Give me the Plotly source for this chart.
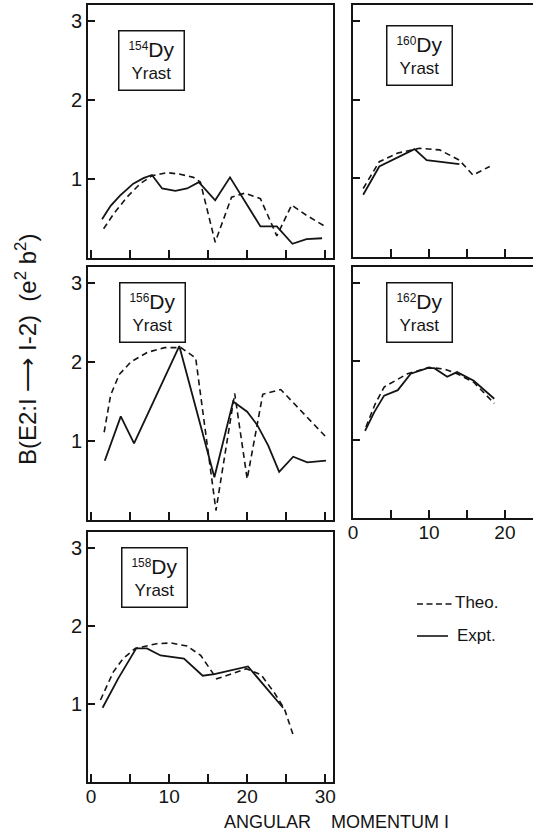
import plotly.graph_objects as go

# ---------------- data ----------------
# 154Dy
I154_theo = [1.6, 2.9, 4.6, 6.3, 7.8, 9.7, 11.4, 13.1, 14.0, 15.9, 18.0, 19.7, 21.7, 23.8, 25.7, 27.6, 29.8]
B154_theo = [0.37, 0.56, 0.77, 0.94, 1.04, 1.08, 1.06, 1.02, 0.96, 0.20, 0.77, 0.82, 0.75, 0.28, 0.67, 0.54, 0.41]
I154_expt = [1.4, 2.5, 3.7, 5.4, 6.7, 7.8, 9.1, 10.8, 12.3, 13.8, 15.9, 17.8, 21.7, 23.8, 25.8, 27.6, 29.6]
B154_expt = [0.49, 0.66, 0.79, 0.94, 1.01, 1.05, 0.88, 0.85, 0.88, 0.96, 0.73, 1.02, 0.40, 0.40, 0.18, 0.24, 0.25]

# 156Dy
I156_theo = [1.67, 2.5, 3.6, 5.1, 7.2, 9.4, 11.5, 13.4, 16.0, 18.4, 20.0, 22.0, 24.3, 30.1]
B156_theo = [1.11, 1.58, 1.84, 2.00, 2.12, 2.18, 2.18, 2.05, 0.12, 1.60, 0.52, 1.59, 1.65, 1.05]
I156_expt = [1.75, 3.8, 5.5, 11.3, 15.8, 18.2, 20.0, 21.3, 22.7, 24.1, 25.9, 27.7, 30.1]
B156_expt = [0.75, 1.31, 0.97, 2.20, 0.54, 1.50, 1.37, 1.20, 0.94, 0.61, 0.80, 0.73, 0.75]

# 158Dy
I158_theo = [1.2, 2.85, 4.1, 5.65, 8.4, 10.2, 12.3, 14.05, 16.1, 19.9, 21.8, 23.5, 24.8, 25.9]
B158_theo = [1.05, 1.41, 1.58, 1.71, 1.77, 1.78, 1.74, 1.62, 1.32, 1.45, 1.37, 1.14, 0.93, 0.60]
I158_expt = [1.47, 3.5, 5.78, 7.15, 8.9, 10.6, 11.9, 14.3, 15.8, 20.1, 24.6]
B158_expt = [0.95, 1.33, 1.71, 1.71, 1.62, 1.60, 1.58, 1.36, 1.38, 1.48, 0.95]

# 160Dy
I160_theo = [1.34, 3.46, 5.9, 8.75, 11.4, 14.0, 15.8, 18.0]
B160_theo = [0.87, 1.21, 1.32, 1.38, 1.36, 1.23, 1.04, 1.15]
I160_expt = [1.34, 3.46, 8.1, 9.7, 14.0]
B160_expt = [0.79, 1.15, 1.37, 1.23, 1.18]

# 162Dy
I162_theo = [1.7, 2.9, 4.1, 7.2, 10.0, 12.0, 13.7, 15.9, 18.6]
B162_theo = [1.16, 1.45, 1.67, 1.84, 1.92, 1.90, 1.84, 1.73, 1.46]
I162_expt = [1.59, 2.8, 4.1, 5.9, 7.6, 9.8, 10.7, 12.4, 13.7, 15.9, 18.6]
B162_expt = [1.11, 1.35, 1.56, 1.63, 1.84, 1.91, 1.91, 1.80, 1.86, 1.75, 1.52]

X_TICK_VALS = [0, 10, 20, 30]
X_TICK_TEXT = ["0", "10", "20", "30"]
X_MINOR_VALS = [5, 15, 25]
Y_TICK_VALS = [1, 2, 3]
Y_TICK_TEXT = ["1", "2", "3"]

PANELS = [
    # isotope, theo x, theo y, expt x, expt y, axis suffix
    ("154", I154_theo, B154_theo, I154_expt, B154_expt, ""),
    ("156", I156_theo, B156_theo, I156_expt, B156_expt, "2"),
    ("158", I158_theo, B158_theo, I158_expt, B158_expt, "3"),
    ("160", I160_theo, B160_theo, I160_expt, B160_expt, "4"),
    ("162", I162_theo, B162_theo, I162_expt, B162_expt, "5"),
]

W, H = 533, 834
INK = "#141414"
FONT = "Liberation Sans"
THEO_DASH = "6px,4px"


def px_x(p):
    return p / W


def px_y(p):
    return 1 - p / H


fig = go.Figure()
for iso, tx, ty, ex, ey, s in PANELS:
    fig.add_trace(go.Scatter(x=tx, y=ty, mode="lines", name="Theo.",
                             xaxis="x" + s, yaxis="y" + s, showlegend=False,
                             line=dict(color=INK, width=1.6, dash=THEO_DASH)))
    fig.add_trace(go.Scatter(x=ex, y=ey, mode="lines", name="Expt.",
                             xaxis="x" + s, yaxis="y" + s, showlegend=False,
                             line=dict(color=INK, width=1.8)))

left_dom = [px_x(88), px_x(333)]
right_dom = [px_x(353), 1.0]
ydoms = {
    "": [px_y(258), px_y(5)],
    "2": [px_y(520), px_y(267)],
    "3": [px_y(782), px_y(532)],
    "4": [px_y(257), px_y(5)],
    "5": [px_y(518), px_y(267)],
}
show_xlab = {"": False, "2": False, "3": True, "4": False, "5": True}

layout = dict(width=W, height=H, margin=dict(l=0, r=0, t=0, b=0),
              paper_bgcolor="white", plot_bgcolor="white",
              font=dict(family=FONT, color=INK))
for iso, tx, ty, ex, ey, s in PANELS:
    right = s in ("4", "5")
    xa = dict(domain=right_dom if right else left_dom,
              range=[0.0, 23.7] if right else [-0.4, 31.0],
              anchor="y" + s, tickmode="array", tickvals=X_TICK_VALS,
              ticktext=X_TICK_TEXT, ticks="inside", ticklen=8, tickwidth=1.5,
              tickcolor=INK,
              minor=dict(tickmode="array", tickvals=X_MINOR_VALS, ticks="inside",
                         ticklen=8, tickwidth=1.5, tickcolor=INK, showgrid=False),
              showline=True, linewidth=2, linecolor=INK,
              mirror=True, showgrid=False, zeroline=False, automargin=False,
              ticklabelstandoff=-4,
              showticklabels=show_xlab[s], tickfont=dict(size=19, family=FONT))
    ya = dict(domain=ydoms[s], range=[0, 3.2], anchor="x" + s,
              tickmode="array", tickvals=Y_TICK_VALS, ticktext=Y_TICK_TEXT,
              ticks="inside", ticklen=7, tickwidth=1.5, tickcolor=INK,
              showline=True, linewidth=2, linecolor=INK, mirror=not right,
              showgrid=False, zeroline=False, automargin=False,
              showticklabels=not right, tickfont=dict(size=20, family=FONT))
    layout["xaxis" + s] = xa
    layout["yaxis" + s] = ya

fig.update_layout(**layout)

# isotope label boxes
boxes = [("154", 151.5, 60), ("160", 419.5, 55), ("156", 152, 312),
         ("162", 419, 312), ("158", 154.5, 577)]
for iso, cx, cy in boxes:
    fig.add_annotation(xref="paper", yref="paper", x=px_x(cx), y=px_y(cy),
                       xanchor="center", yanchor="middle",
                       text="<sup>%s</sup><span style='font-size:21px'>Dy</span><br>Yrast" % iso,
                       showarrow=False,
                       font=dict(size=17, family=FONT, color=INK),
                       align="center", width=60, height=54,
                       bordercolor=INK, borderwidth=1.5, borderpad=2,
                       bgcolor="white")

# axis titles
NB = "\u00a0"
fig.add_annotation(xref="paper", yref="paper", x=px_x(336), y=px_y(822),
                   xanchor="center", yanchor="middle",
                   text="ANGULAR" + NB * 4 + "MOMENTUM" + NB + "I", showarrow=False,
                   font=dict(size=18, family=FONT, color=INK))
fig.add_annotation(xref="paper", yref="paper", x=px_x(26), y=px_y(350),
                   xanchor="center", yanchor="middle",
                   text="B(E2:I ⟶ I-2)" + NB * 2 + "(e<sup>2</sup> b<sup>2</sup>)",
                   textangle=-90, showarrow=False,
                   font=dict(size=24, family=FONT, color=INK))

# legend (line samples + text)
fig.add_shape(type="line", xref="paper", yref="paper",
              x0=px_x(417), x1=px_x(452), y0=px_y(604), y1=px_y(604),
              line=dict(color=INK, width=1.6, dash="6px,3.5px"))
fig.add_shape(type="line", xref="paper", yref="paper",
              x0=px_x(417), x1=px_x(448), y0=px_y(636), y1=px_y(636),
              line=dict(color=INK, width=1.6))
fig.add_annotation(xref="paper", yref="paper", x=px_x(453), y=px_y(602),
                   xanchor="left", yanchor="middle", text="Theo.", showarrow=False,
                   font=dict(size=17, family=FONT, color=INK))
fig.add_annotation(xref="paper", yref="paper", x=px_x(455), y=px_y(635),
                   xanchor="left", yanchor="middle", text="Expt.", showarrow=False,
                   font=dict(size=17, family=FONT, color=INK))

fig.write_html("out.html", config={"displayModeBar": False},
               post_script="document.body.style.margin='0px';")
